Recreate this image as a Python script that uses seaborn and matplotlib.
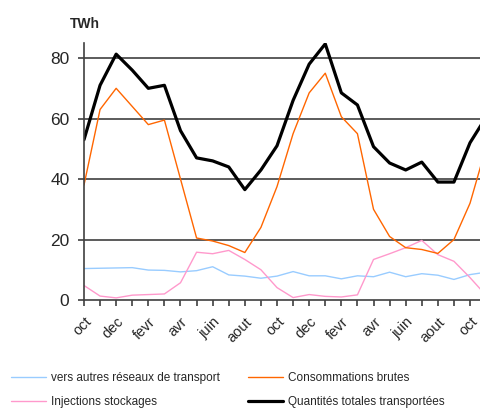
import numpy as np
import pandas as pd
import matplotlib
matplotlib.use("Agg")
import matplotlib.pyplot as plt
import seaborn as sns

# Monthly values, oct (year 1) to oct (year 3) and a bit beyond.
months = list(range(26))
month_labels = ["oct", "dec", "fevr", "avr", "juin", "aout",
                "oct", "dec", "fevr", "avr", "juin", "aout", "oct"]

vers_autres = [10.4, 10.5, 10.6, 10.7, 9.9, 9.8, 9.3, 9.7, 11.0, 8.3, 7.9, 7.2, 7.9,
               9.4, 8.0, 8.0, 7.0, 8.0, 7.7, 9.2, 7.7, 8.7, 8.2, 6.8, 8.4, 9.2]
consommations = [38, 63, 70, 64, 58, 59.5, 40, 20.5, 19.5, 18, 15.7, 24, 37.5,
                 55, 68.5, 75, 60.6, 55, 30, 21, 17.3, 16.7, 15.4, 20, 32, 50.5]
injections = [4.8, 1.3, 0.7, 1.6, 1.8, 2.0, 5.7, 15.8, 15.3, 16.4, 13.4, 10, 4.1,
              0.8, 1.8, 1.2, 1.0, 1.7, 13.4, 15.3, 17.3, 19.7, 15.0, 12.8, 7.4, 1.5]
quantites = [53, 71, 81.3, 76, 70, 71, 56, 47, 46, 44, 36.5, 43, 51,
             66, 78, 84.7, 68.5, 64.5, 50.7, 45.3, 43, 45.6, 39, 39, 52, 60.5]

series_names = ["vers autres réseaux de transport", "Injections stockages",
                "Consommations brutes", "Quantités totales transportées"]
colors = ["#99CCFF", "#FF99CC", "#FF6600", "#000000"]
widths = [1.0, 1.0, 1.0, 2.3]

df = pd.DataFrame({"mois": months * 4,
                   "TWh": vers_autres + injections + consommations + quantites,
                   "serie": np.repeat(series_names, len(months))})

sns.set_style("white")
plt.rcParams["font.family"] = ["Liberation Sans", "DejaVu Sans"]

fig = plt.figure(figsize=(4.81, 4.08), dpi=100)
ax = fig.add_axes([0.1746, 0.2647, 0.826, 0.63])

for name, col, lw in zip(series_names, colors, widths):
    sns.lineplot(data=df[df["serie"] == name], x="mois", y="TWh", color=col,
                 linewidth=lw, ax=ax, label=name, legend=False)

for v in [20, 40, 60, 80]:
    ax.axhline(v, color="#404040", linewidth=1.2, zorder=0)

ax.set_xlim(0, 24.7)
ax.set_ylim(0, 85)
ax.set_yticks([0, 20, 40, 60, 80])
ax.set_xticks(range(25))
ax.set_xticklabels([month_labels[i // 2] if i % 2 == 0 else "" for i in range(25)],
                   rotation=45, ha="right", rotation_mode="anchor")
ax.tick_params(axis="y", labelsize=12.5, length=4.5, width=1.2, color="#404040", pad=6)
ax.tick_params(axis="x", labelsize=10.5, length=4.5, width=1.2, color="#404040", pad=6)
ax.tick_params(left=True, bottom=True)
ax.set_xlabel("")
ax.set_ylabel("")
for side in ["top", "right"]:
    ax.spines[side].set_visible(False)
for side in ["left", "bottom"]:
    ax.spines[side].set_color("#404040")
    ax.spines[side].set_linewidth(1.2)

fig.text(0.177, 0.941, "TWh", fontsize=10, fontweight="bold", ha="center", va="center")

handles, labels = ax.get_legend_handles_labels()
fig.legend(handles, labels, ncol=2, loc="lower left", bbox_to_anchor=(0.005, -0.02),
           frameon=False, fontsize=8.5, handlelength=3.0, handletextpad=0.4,
           columnspacing=2.4, labelspacing=1.0, borderpad=0.2)

fig.savefig("out.png", dpi=100)
